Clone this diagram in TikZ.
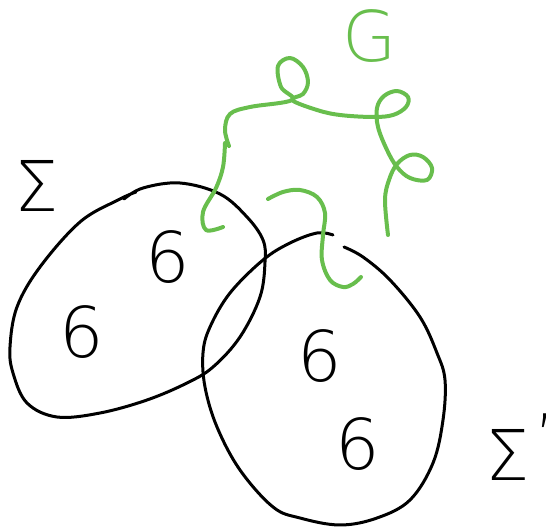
\documentclass[tikz,border=0pt]{standalone}
\usepackage{fontspec}
\setmainfont{DejaVu Sans}[UprightFont=* ExtraLight]
\definecolor{sketchgreen}{RGB}{104,190,77}
\tikzset{
  blackstroke/.style={draw=black, line width=3pt, line cap=round, line join=round},
  greenstroke/.style={draw=sketchgreen, line width=4pt, line cap=round, line join=round},
  glyph/.style={inner sep=0pt, font=\fontsize{70}{70}\selectfont},
}
\begin{document}
\begin{tikzpicture}[x=1pt,y=-1pt]
\useasboundingbox (0,0) rectangle (555,529);
% left surface
\draw[blackstroke] plot[smooth, tension=0.6] coordinates {
 (124,199) (143,188) (180,183) (220,194) (247,217) (263,240) (265,262)
 (260,297) (240,337) (213,367) (187,383) (147,400) (100,413) (57,417)
 (27,403) (13,373) (10,347) (17,307) (40,267) (80,222) (118,200) (136,192)};
% right surface
\draw[blackstroke] plot[smooth, tension=0.6] coordinates {
 (333,235) (317,233) (290,243) (263,260) (230,293) (210,327) (203,353)
 (205,387) (217,427) (240,470) (273,507) (300,518) (340,525) (377,518)
 (410,500) (433,463) (443,420) (445,380) (437,353) (420,317) (390,280)
 (363,257) (344,247)};
% green curves
\draw[greenstroke] plot[smooth, tension=0.6] coordinates {
 (223,227) (206,230) (203,212) (216,188) (223,167) (225,143)};
\draw[greenstroke] plot[smooth, tension=0.6] coordinates {
 (229,146) (225,130) (230,114) (250,107) (292,100) (281,87) (278,66)
 (290,58) (303,67) (308,82) (303,94) (292,100) (317,110) (340,115)
 (373,117) (393,115) (406,107) (408,97) (397,91) (384,96) (377,108)
 (378,127) (387,150) (397,167) (410,178) (427,180) (432,168) (423,157)
 (410,155) (397,164) (389,180) (385,200) (388,235)};
\draw[greenstroke] plot[smooth, tension=0.6] coordinates {
 (268,199) (283,192) (300,190) (317,197) (325,213) (323,235) (322,260)
 (330,280) (343,287) (353,284) (361,277)};
% labels
\node[glyph, text=sketchgreen] (g) at (370,36) {G};
\node[glyph] (s1) at (37,186) {Σ};
\node[glyph] (s2) at (508,455) {Σ};
\node[inner sep=0pt, anchor=north, font=\fontsize{60}{60}\selectfont] (p2) at (545,414) {'};
\node[glyph] (a1) at (168,257) {6};
\node[glyph] (a2) at (82,332) {6};
\node[glyph] (a3) at (320,356) {6};
\node[glyph] (a4) at (358,444) {6};
\end{tikzpicture}
\end{document}
